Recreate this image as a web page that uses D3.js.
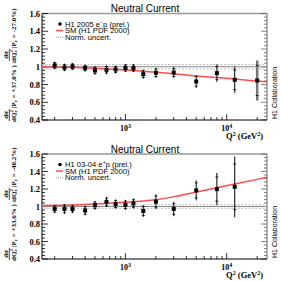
<!DOCTYPE html>
<html><head><meta charset="utf-8">
<script src="https://cdn.jsdelivr.net/npm/d3@7"></script>
<style>body{margin:0;background:#fff}svg{display:block}</style>
</head><body>
<script>
// ---- data ----
const q2Em = [200,250,300,400,500,650,800,1000,1200,1500,2000,3000,5000,8000,12000,20000];
const ratioEm = [1.015,0.992,1.003,0.985,0.958,0.966,0.969,0.985,0.985,0.917,0.932,0.935,0.834,0.928,0.853,0.845];
const errEm = [0.042,0.042,0.038,0.038,0.047,0.049,0.045,0.045,0.045,0.051,0.057,0.06,0.072,0.098,0.147,0.226];
const q2Ep = [200,250,300,400,500,650,800,1000,1200,1500,2000,3000,5000,8000,12000];
const ratioEp = [0.972,0.972,0.972,0.955,1.014,1.053,1.028,1.019,1.034,0.949,1.055,0.972,1.184,1.199,1.225];
const errEp = [0.047,0.057,0.047,0.057,0.05,0.057,0.053,0.057,0.057,0.068,0.085,0.082,0.114,0.184,0.347];
const smQ2Em = [150,300,600,1000,2000,3000,5000,10000,20000,25000];
const smEm = [1.0,0.993,0.978,0.963,0.938,0.92,0.897,0.87,0.84,0.832];
const smQ2Ep = [150,300,600,1000,1500,2000,3000,5000,8000,12000,20000,25000];
const smEp = [1.008,1.018,1.033,1.048,1.063,1.078,1.11,1.165,1.215,1.256,1.31,1.335];
const normEm = 0.025, normEp = 0.02;
const yTicks = [0.4,0.6,0.8,1,1.2,1.4,1.6];
const yTickLabels = ["0.4","0.6","0.8","1","1.2","1.4","1.6"];
const xMajor = [1000,10000];
const xMajorExp = ["3","4"];
const titleText = "Neutral Current";
const legendEm = "H1 2005 e\u207Bp (prel.)";
const legendEp = "H1 03-04 e\u207Ap (prel.)";
const legendSM = "SM (H1 PDF 2000)";
const legendNorm = "Norm. uncert.";
const polEm = ["+37.0%", "-27.0%"];
const polEp = ["+33.6%", "-40.2%"];

// ---- drawing ----
const W = 281, H = 281;
const svg = d3.select("body").append("svg").attr("width", W).attr("height", H);
const x = d3.scaleLog().domain([150, 25000]).range([42, 267]);
const sans = "'Liberation Sans', Arial, sans-serif";
const serif = "'Liberation Serif', 'Times New Roman', serif";

function panel(cfg) {
  const y = d3.scaleLinear().domain([0.4, 1.6]).range([cfg.bottom, cfg.top]);
  const g = svg.append("g");
  const [x0, x1] = x.range();
  // frame (top/right gray)
  g.append("line").attr("x1", x0).attr("x2", x1).attr("y1", cfg.top).attr("y2", cfg.top)
    .attr("stroke", "#999").attr("stroke-width", 1.5);
  g.append("line").attr("x1", x1).attr("x2", x1).attr("y1", cfg.top).attr("y2", cfg.bottom)
    .attr("stroke", "#999").attr("stroke-width", 1.5);
  // y ticks
  const minor = d3.range(0, 31).map(i => 0.4 + i * 0.04);
  minor.forEach((v, i) => {
    const len = i % 5 === 0 ? 6 : 3;
    g.append("line").attr("x1", x0).attr("x2", x0 + len).attr("y1", y(v)).attr("y2", y(v))
      .attr("stroke", "#000").attr("stroke-width", 0.8);
    g.append("line").attr("x1", x1).attr("x2", x1 - len).attr("y1", y(v)).attr("y2", y(v))
      .attr("stroke", "#666").attr("stroke-width", 0.8);
  });
  yTicks.forEach((v, i) => {
    g.append("text").attr("x", 40).attr("y", y(v) + 3).attr("text-anchor", "end")
      .attr("font-family", serif).attr("font-weight", "bold").attr("font-size", 8.5)
      .text(yTickLabels[i]);
  });
  // x ticks
  const xt = [];
  [100, 1000, 10000].forEach(d => { for (let k = 1; k < 10; k++) xt.push(k * d); });
  xt.filter(v => v >= 150 && v <= 25000).forEach(v => {
    const maj = xMajor.includes(v);
    g.append("line").attr("x1", x(v)).attr("x2", x(v)).attr("y1", cfg.bottom).attr("y2", cfg.bottom - (maj ? 6 : 3))
      .attr("stroke", "#000").attr("stroke-width", 0.8);
  });
  xMajor.forEach((v, i) => {
    const t = g.append("text").attr("x", x(v)).attr("y", cfg.bottom + 11).attr("text-anchor", "middle")
      .attr("font-family", serif).attr("font-weight", "bold").attr("font-size", 8);
    t.append("tspan").text("10");
    t.append("tspan").attr("dy", -3).attr("font-size", 6).text(xMajorExp[i]);
  });
  const xl = g.append("text").attr("x", 263).attr("y", cfg.bottom + 19).attr("text-anchor", "end")
    .attr("font-family", serif).attr("font-weight", "bold").attr("font-size", 8.5);
  xl.append("tspan").text("Q");
  xl.append("tspan").attr("dy", -3).attr("font-size", 6).text("2");
  xl.append("tspan").attr("dy", 3).text(" (GeV");
  xl.append("tspan").attr("dy", -3).attr("font-size", 6).text("2");
  xl.append("tspan").attr("dy", 3).text(")");
  // axes lines
  g.append("line").attr("x1", x0).attr("x2", x0).attr("y1", cfg.top).attr("y2", cfg.bottom).attr("stroke", "#000");
  g.append("line").attr("x1", x0).attr("x2", x1).attr("y1", cfg.bottom).attr("y2", cfg.bottom).attr("stroke", "#000");
  // norm lines
  g.append("line").attr("x1", x0).attr("x2", x1).attr("y1", y(1)).attr("y2", y(1))
    .attr("stroke", "#888").attr("stroke-width", 1);
  [1 + cfg.norm, 1 - cfg.norm].forEach(v => {
    g.append("line").attr("x1", x0).attr("x2", x1).attr("y1", y(v)).attr("y2", y(v))
      .attr("stroke", "#aaa").attr("stroke-width", 0.8).attr("stroke-dasharray", "2,1.5");
  });
  // SM curve
  const line = d3.line().x(d => x(d[0])).y(d => y(d[1])).curve(d3.curveMonotoneX);
  g.append("path").datum(cfg.smQ.map((q, i) => [q, cfg.sm[i]])).attr("d", line)
    .attr("fill", "none").attr("stroke", "#ff4d4d").attr("stroke-width", 1.5);
  // data
  cfg.q.forEach((q, i) => {
    const v = cfg.r[i], e = cfg.e[i];
    const big = e > 0.2;
    const lo = Math.max(0.4, v - e), hi = Math.min(1.6, v + e);
    g.append("line").attr("x1", x(q)).attr("x2", x(q)).attr("y1", y(lo)).attr("y2", y(hi))
      .attr("stroke", big && cfg.grayLast ? "#777" : "#000").attr("stroke-width", big && cfg.grayLast ? 2.5 : 1);
    [v - 0.75 * e, v + 0.75 * e].forEach(s => {
      g.append("line").attr("x1", x(q) - 1.5).attr("x2", x(q) + 1.5).attr("y1", y(s)).attr("y2", y(s))
        .attr("stroke", "#000").attr("stroke-width", 0.8);
    });
    g.append("rect").attr("x", x(q) - 2).attr("y", y(v) - 2).attr("width", 4).attr("height", 4).attr("fill", "#000");
  });
  // title
  g.append("text").attr("x", 145).attr("y", cfg.top - 1.5).attr("text-anchor", "middle")
    .attr("font-family", sans).attr("font-size", 10).text(titleText);
  // legend
  const lx = 56, ly = cfg.top + 10.5;
  g.append("circle").attr("cx", 60).attr("cy", ly).attr("r", 1.8).attr("fill", "#000");
  g.append("text").attr("x", 65).attr("y", ly + 2.6).attr("font-family", sans).attr("font-size", 7.6).text(cfg.leg);
  g.append("line").attr("x1", lx).attr("x2", lx + 7).attr("y1", ly + 6.6).attr("y2", ly + 6.6)
    .attr("stroke", "#ff4d4d").attr("stroke-width", 1.5);
  g.append("text").attr("x", 65).attr("y", ly + 6.6 + 2.6).attr("font-family", sans).attr("font-size", 7.6).text(legendSM);
  g.append("line").attr("x1", lx).attr("x2", lx + 7).attr("y1", ly + 13.3).attr("y2", ly + 13.3)
    .attr("stroke", "#999").attr("stroke-width", 1).attr("stroke-dasharray", "1,1");
  g.append("text").attr("x", 65).attr("y", ly + 13.3 + 2.6).attr("font-family", sans).attr("font-size", 7.6).text(legendNorm);
  // H1 Collaboration
  g.append("text").attr("transform", `translate(277,${cfg.bottom - 1}) rotate(-90)`)
    .attr("font-family", sans).attr("font-size", 7).text("H1 Collaboration");
  // y title
  const yt = g.append("g").attr("transform", `translate(0,${cfg.bottom + 2}) rotate(-90)`)
    .attr("font-family", serif).attr("font-weight", "bold").attr("font-size", 7);
  function frac(u) {
    yt.append("text").attr("x", u).attr("y", 7.5).attr("text-anchor", "middle").text("d\u03c3");
    yt.append("line").attr("x1", u - 6).attr("x2", u + 6).attr("y1", 9.3).attr("y2", 9.3).attr("stroke", "#000").attr("stroke-width", 0.7);
    const d = yt.append("text").attr("x", u - 1).attr("y", 15.5).attr("text-anchor", "middle");
    d.append("tspan").text("dQ");
    d.append("tspan").attr("dy", -2.5).attr("font-size", 5).text("2");
    d.append("tspan").attr("dy", 4).attr("dx", -2.5).attr("font-size", 5).text("e");
  }
  function pol(u, s) {
    const t = yt.append("text").attr("x", u).attr("y", 15.5);
    t.append("tspan").text("|P");
    t.append("tspan").attr("dy", 1.5).attr("font-size", 5).text("e");
    t.append("tspan").attr("dy", -1.5).text(" = " + s);
  }
  frac(7);
  pol(14, cfg.pol[0] + " ) /");
  frac(67);
  pol(74, cfg.pol[1] + ")");
}

panel({top: 13.5, bottom: 120, q: q2Em, r: ratioEm, e: errEm, smQ: smQ2Em, sm: smEm, norm: normEm,
  leg: legendEm, pol: polEm, grayLast: true});
panel({top: 154, bottom: 259, q: q2Ep, r: ratioEp, e: errEp, smQ: smQ2Ep, sm: smEp, norm: normEp,
  leg: legendEp, pol: polEp, grayLast: false});
</script>
</body></html>
